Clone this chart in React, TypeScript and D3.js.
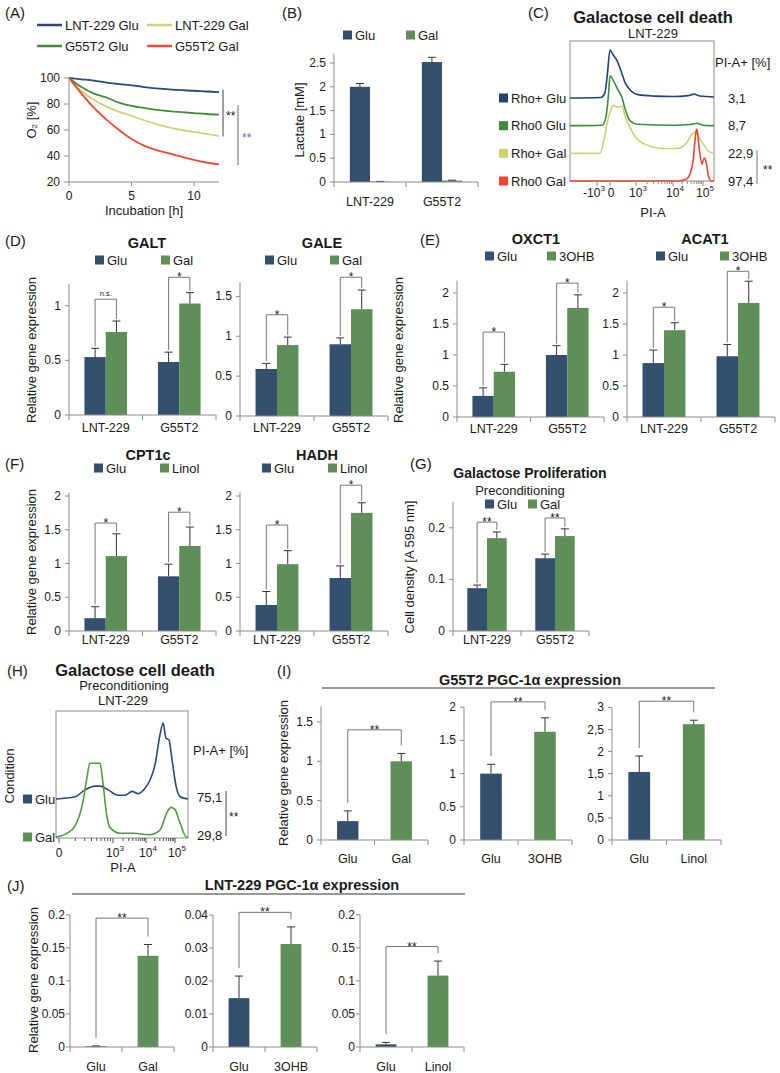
import React from "react";
import * as d3 from "d3";

const FONT = "'Liberation Sans', Arial, Helvetica, sans-serif";
const BAR_BLUE = "#35506f";
const BAR_GREEN = "#5f8f58";
const LINE_BLUE = "#2b477a";
const LINE_GREEN = "#478a3d";
const LINE_YELLOW = "#cfd27a";
const LINE_RED = "#ee4a36";
const AXIS = "#8c8c8c";
const BRACKET = "#777";
const INK = "#1a1a1a";

// (A) oxygen consumption
const hours = [0, 1, 2, 3, 4, 5, 6, 7, 8, 9, 10, 11, 12];
const o2LntGlu = [100, 99, 98, 96.5, 95.3, 94.4, 93, 92, 91.2, 90.6, 90.2, 89.6, 89.2];
const o2LntGal = [100, 90, 83, 78, 74, 71, 67.5, 64.5, 62, 60, 58.5, 57, 55.5];
const o2G55Glu = [100, 93, 88, 85, 81, 78.5, 77, 75.5, 74.5, 73.7, 73, 72.3, 71.8];
const o2G55Gal = [100, 88, 77, 68, 60, 53, 48, 44.5, 42, 39.5, 37, 35, 33.5];
const o2Names = ["LNT-229 Glu", "LNT-229 Gal", "G55T2 Glu", "G55T2 Gal"];
const o2Ticks = [20, 40, 60, 80, 100];
const hourTicks = [0, 5, 10];
const o2Sig = [[91, 55], [79, 33]];

// (B) lactate
const cells = ["LNT-229", "G55T2"];
const lactateGlu = [2.0, 2.52];
const lactateGluErr = [0.07, 0.1];
const lactateGal = [0.008, 0.03];
const lactateGalErr = [0.004, 0.008];
const lactateTicks = [0, 0.5, 1, 1.5, 2, 2.5];

// (C) flow cytometry, LNT-229
const flowRowsC = ["Rho+ Glu", "Rho0 Glu", "Rho+ Gal", "Rho0 Gal"];
const piPositiveC = ["3,1", "8,7", "22,9", "97,4"];
const flowRhoPlusGlu = [[-1.9, 0], [-0.7, 0.01], [-0.4, 0.1], [-0.2, 0.5], [0, 1], [0.12, 0.9], [0.27, 0.78], [0.4, 0.6], [0.58, 0.32], [0.8, 0.15], [1.05, 0.07], [1.5, 0.04], [2, 0.03], [2.5, 0.05], [2.7, 0.08], [2.9, 0.04], [3.4, 0.02]];
const flowRho0Glu = [[-1.9, 0], [-0.6, 0.01], [-0.3, 0.2], [-0.1, 0.7], [0, 1.04], [0.12, 0.95], [0.3, 0.75], [0.45, 0.6], [0.58, 0.35], [0.77, 0.1], [1.05, 0.03], [2, 0.01], [2.65, 0.03], [2.8, 0.05], [3, 0.01], [3.4, 0]];
const flowRhoPlusGal = [[-1.9, 0], [-0.77, 0], [-0.45, 0.3], [-0.2, 0.65], [0, 0.85], [0.12, 1.0], [0.3, 0.96], [0.46, 0.98], [0.58, 0.77], [0.77, 0.54], [0.96, 0.35], [1.1, 0.25], [1.38, 0.15], [1.73, 0.1], [2.13, 0.1], [2.47, 0.23], [2.63, 0.4], [2.73, 0.44], [2.9, 0.3], [3.06, 0.15], [3.23, 0.03], [3.4, 0]];
const flowRho0Gal = [[-1.9, 0], [2.2, 0], [2.45, 0.04], [2.57, 0.15], [2.67, 0.42], [2.77, 1.04], [2.8, 1.08], [2.87, 0.69], [2.97, 0.35], [3.0, 0.42], [3.06, 0.48], [3.13, 0.35], [3.2, 0.1], [3.3, 0], [3.4, 0]];

// (D) galactose genes
const galtGlu = [0.53, 0.485];
const galtGluErr = [0.08, 0.09];
const galtGal = [0.76, 1.02];
const galtGalErr = [0.1, 0.1];
const galtSig = [1.06, 1.26];
const galtSigLabel = ["n.s.", "*"];
const galeGlu = [0.59, 0.9];
const galeGluErr = [0.07, 0.08];
const galeGal = [0.89, 1.34];
const galeGalErr = [0.1, 0.24];
const galeSig = [1.27, 1.74];

// (E) ketone genes
const oxctGlu = [0.34, 1.0];
const oxctGluErr = [0.13, 0.15];
const oxct3ohb = [0.73, 1.76];
const oxct3ohbErr = [0.12, 0.21];
const oxctSig = [1.37, 2.16];
const acatGlu = [0.87, 0.98];
const acatGluErr = [0.21, 0.19];
const acat3ohb = [1.4, 1.84];
const acat3ohbErr = [0.12, 0.35];
const acatSig = [1.77, 2.35];

// (F) fatty acid genes
const cptGlu = [0.19, 0.81];
const cptGluErr = [0.17, 0.18];
const cptLinol = [1.11, 1.26];
const cptLinolErr = [0.33, 0.28];
const cptSig = [1.6, 1.76];
const hadhGlu = [0.385, 0.785];
const hadhGluErr = [0.2, 0.18];
const hadhLinol = [0.99, 1.75];
const hadhLinolErr = [0.2, 0.15];
const hadhSig = [1.57, 2.16];

// (G) proliferation
const prolGlu = [0.083, 0.141];
const prolGluErr = [0.006, 0.008];
const prolGal = [0.18, 0.184];
const prolGalErr = [0.012, 0.014];
const prolSig = [0.211, 0.219];

// (H) flow cytometry, preconditioning
const flowRowsH = ["Glu", "Gal"];
const piPositiveH = ["75,1", "29,8"];
const flowHGlu = [[-0.1, 0], [0.3, 0.03], [0.48, 0.12], [0.67, 0.17], [0.76, 0.17], [0.91, 0.12], [1.15, 0.05], [1.36, 0.05], [1.58, 0.1], [1.76, 0.07], [1.97, 0.14], [2.14, 0.25], [2.31, 0.45], [2.48, 0.84], [2.59, 1.0], [2.69, 0.8], [2.79, 0.78], [2.9, 0.51], [3.03, 0.18], [3.17, 0.03], [3.43, 0]];
const flowHGal = [[-0.1, 0], [0.15, 0.05], [0.3, 0.15], [0.44, 0.45], [0.52, 0.79], [0.57, 0.97], [0.76, 0.97], [0.8, 0.79], [0.89, 0.26], [0.94, 0.13], [1.21, 0.05], [1.61, 0.05], [2.12, 0.03], [2.48, 0.09], [2.72, 0.32], [2.86, 0.39], [3.0, 0.36], [3.17, 0.18], [3.38, 0], [3.43, 0]];

// (I) G55T2 PGC-1a
const pgcGalGroups = ["Glu", "Gal"];
const pgc3ohbGroups = ["Glu", "3OHB"];
const pgcLinolGroups = ["Glu", "Linol"];
const g55PgcGal = [0.24, 1.0];
const g55PgcGalErr = [0.13, 0.1];
const g55Pgc3ohb = [1.0, 1.63];
const g55Pgc3ohbErr = [0.14, 0.21];
const g55PgcLinol = [1.54, 2.62];
const g55PgcLinolErr = [0.36, 0.09];
const g55PgcSig = [1.4, 2.08, 3.14];

// (J) LNT-229 PGC-1a
const lntPgcGal = [0.001, 0.138];
const lntPgcGalErr = [0.0006, 0.017];
const lntPgc3ohb = [0.0148, 0.0312];
const lntPgc3ohbErr = [0.0067, 0.0052];
const lntPgcLinol = [0.004, 0.108];
const lntPgcLinolErr = [0.003, 0.022];
const lntPgcSig = [0.195, 0.0408, 0.152];

const ticks05 = (max: number) => d3.range(0, max + 1e-9, 0.5).map((v) => +v.toFixed(2));

type Sig = { a: [number, number]; b: [number, number]; y: number; label: string };

function BarChart(props: {
  x0: number; x1: number; yBase: number; yTop: number; axisMax: number;
  ticks: number[]; fmt?: (v: number) => string; tickGap?: number;
  groups: string[]; series: string[]; values: number[][]; errors: number[][];
  colors: string[]; colorByGroup?: boolean; barFrac: number;
  sigs: Sig[]; gap: number; labelDy: number;
}) {
  const { x0, x1, yBase, yTop, axisMax, ticks, groups, series, values, errors, colors, barFrac, sigs, gap, labelDy } = props;
  const fmt = props.fmt ?? ((v: number) => String(v));
  const tickGap = props.tickGap ?? 8;
  const x = d3.scaleBand<string>().domain(groups).range([x0, x1]);
  const bw = x.bandwidth();
  const inner = d3.scaleBand<string>().domain(series).range([(bw * (1 - barFrac)) / 2, (bw * (1 + barFrac)) / 2]);
  const y = d3.scaleLinear().domain([0, axisMax]).range([yBase, yTop]);
  const cx = (g: number, s: number) => (x(groups[g]) as number) + (inner(series[s]) as number) + inner.bandwidth() / 2;
  const errTop = (g: number, s: number) => y(values[s][g] + errors[s][g]);
  const bounds = [x0, ...groups.slice(1).map((g) => x(g) as number), x1];
  return (
    <g>
      {series.map((s, si) =>
        groups.map((g, gi) => {
          const v = values[si][gi];
          const bx = (x(g) as number) + (inner(s) as number);
          const mid = bx + inner.bandwidth() / 2;
          const et = errTop(gi, si);
          return (
            <g key={s + g}>
              <rect x={bx} y={y(v)} width={inner.bandwidth()} height={yBase - y(v)} fill={props.colorByGroup ? colors[gi] : colors[si]} />
              <line x1={mid} x2={mid} y1={y(v)} y2={et} stroke="#333" />
              <line x1={mid - 4} x2={mid + 4} y1={et} y2={et} stroke="#333" />
            </g>
          );
        })
      )}
      <line x1={x0} x2={x0} y1={yBase} y2={yTop} stroke={AXIS} />
      {ticks.map((t) => (
        <g key={t}>
          <line x1={x0 - 4} x2={x0} y1={y(t)} y2={y(t)} stroke={AXIS} />
          <text x={x0 - tickGap} y={y(t)} textAnchor="end" dominantBaseline="central" fontSize={12} fill={INK}>{fmt(t)}</text>
        </g>
      ))}
      <line x1={x0} x2={x1} y1={yBase} y2={yBase} stroke={AXIS} />
      {bounds.map((b, i) => (
        <line key={i} x1={b} x2={b} y1={yBase} y2={yBase + 5} stroke={AXIS} />
      ))}
      {groups.map((g) => (
        <text key={g} x={(x(g) as number) + bw / 2} y={yBase + labelDy} textAnchor="middle" dominantBaseline="central" fontSize={12.5} fill={INK}>{g}</text>
      ))}
      {sigs.map((sg, i) => {
        const xa = cx(sg.a[0], sg.a[1]);
        const xb = cx(sg.b[0], sg.b[1]);
        const yb = y(sg.y);
        const ya = Math.max(yb, errTop(sg.a[0], sg.a[1]) - gap);
        const yr = Math.max(yb + 5, errTop(sg.b[0], sg.b[1]) - gap);
        const ns = sg.label === "n.s.";
        return (
          <g key={i}>
            <path d={`M${xa},${ya}V${yb}H${xb}V${yr}`} fill="none" stroke={BRACKET} />
            <text x={(xa + xb) / 2} y={ns ? yb - 3 : yb + 4} textAnchor="middle" fontSize={ns ? 7.5 : 12} fill={INK}>{sg.label}</text>
          </g>
        );
      })}
    </g>
  );
}

function Legend({ y, items }: { y: number; items: { label: string; color: string; x: number }[] }) {
  return (
    <g>
      {items.map((it) => (
        <g key={it.label}>
          <rect x={it.x} y={y - 4.5} width={9} height={9} fill={it.color} />
          <text x={it.x + 12} y={y} dominantBaseline="central" fontSize={13} fill={INK}>{it.label}</text>
        </g>
      ))}
    </g>
  );
}

function YLabel({ x, y, children }: { x: number; y: number; children: React.ReactNode }) {
  return (
    <text x={x} y={y} transform={`rotate(-90,${x},${y})`} textAnchor="middle" dominantBaseline="central" fontSize={13} fill={INK}>{children}</text>
  );
}

function Title({ x, y, size = 14.5, children }: { x: number; y: number; size?: number; children: React.ReactNode }) {
  return (
    <text x={x} y={y} textAnchor="middle" dominantBaseline="central" fontSize={size} fontWeight="bold" fill={INK}>{children}</text>
  );
}

function PanelLabel({ x, y, children }: { x: number; y: number; children: React.ReactNode }) {
  return <text x={x} y={y} dominantBaseline="central" fontSize={15} fill={INK}>{children}</text>;
}

function Pow({ x, y, exp, neg = false }: { x: number; y: number; exp: string; neg?: boolean }) {
  return (
    <text x={x} y={y} textAnchor="middle" dominantBaseline="central" fontSize={12} fill={INK}>
      {neg ? "-10" : "10"}
      <tspan fontSize={8} dy={-5}>{exp}</tspan>
    </text>
  );
}

function PanelA() {
  const x = d3.scaleLinear().domain([0, 12]).range([69, 219]);
  const y = d3.scaleLinear().domain([20, 100]).range([182, 78]);
  const series = [o2LntGlu, o2LntGal, o2G55Glu, o2G55Gal];
  const colors = [LINE_BLUE, LINE_YELLOW, LINE_GREEN, LINE_RED];
  const legendPos = [[37, 25], [147, 25], [37, 46], [147, 46]];
  const line = d3.line<number>().x((_, i) => x(hours[i])).y((d) => y(d)).curve(d3.curveMonotoneX);
  return (
    <g>
      <PanelLabel x={5} y={12}>(A)</PanelLabel>
      {o2Names.map((n, i) => (
        <g key={n}>
          <line x1={legendPos[i][0]} x2={legendPos[i][0] + 25} y1={legendPos[i][1]} y2={legendPos[i][1]} stroke={colors[i]} strokeWidth={2.5} />
          <text x={legendPos[i][0] + 28} y={legendPos[i][1]} dominantBaseline="central" fontSize={13} fill={INK}>{n}</text>
        </g>
      ))}
      {series.map((s, i) => (
        <path key={i} d={line(s) as string} fill="none" stroke={colors[i]} strokeWidth={1.8} />
      ))}
      <line x1={69} x2={69} y1={182} y2={78} stroke={AXIS} />
      {o2Ticks.map((t) => (
        <g key={t}>
          <line x1={64} x2={69} y1={y(t)} y2={y(t)} stroke={AXIS} />
          <text x={60} y={y(t)} textAnchor="end" dominantBaseline="central" fontSize={12} fill={INK}>{t}</text>
        </g>
      ))}
      <line x1={69} x2={x(12)} y1={182} y2={182} stroke={AXIS} />
      {hourTicks.map((t) => (
        <g key={t}>
          <line x1={x(t)} x2={x(t)} y1={182} y2={186} stroke={AXIS} />
          <text x={x(t)} y={196} textAnchor="middle" dominantBaseline="central" fontSize={12} fill={INK}>{t}</text>
        </g>
      ))}
      <text x={144} y={210} textAnchor="middle" dominantBaseline="central" fontSize={13} fill={INK}>Incubation [h]</text>
      <text x={31} y={120} transform="rotate(-90,31,120)" textAnchor="middle" dominantBaseline="central" fontSize={13} fill={INK}>
        O<tspan fontSize={8} dy={3}>2</tspan><tspan dy={-3}> [%]</tspan>
      </text>
      <line x1={223} x2={223} y1={y(o2Sig[0][0])} y2={y(o2Sig[0][1])} stroke="#444" />
      <text x={226} y={y((o2Sig[0][0] + o2Sig[0][1]) / 2) + 7} fontSize={12} fill={INK}>**</text>
      <line x1={238} x2={238} y1={y(o2Sig[1][0])} y2={y(o2Sig[1][1])} stroke="#666" />
      <text x={242} y={y((o2Sig[1][0] + o2Sig[1][1]) / 2) + 7} fontSize={12} fill="#6f68a3">**</text>
    </g>
  );
}

function PanelB() {
  return (
    <g>
      <PanelLabel x={282} y={12}>(B)</PanelLabel>
      <Legend y={35} items={[{ label: "Glu", color: BAR_BLUE, x: 343 }, { label: "Gal", color: BAR_GREEN, x: 406 }]} />
      <BarChart x0={334} x1={478} yBase={182} yTop={182 - 2.7 * 47.6} axisMax={2.7} ticks={lactateTicks}
        groups={cells} series={["Glu", "Gal"]} values={[lactateGlu, lactateGal]} errors={[lactateGluErr, lactateGalErr]}
        colors={[BAR_BLUE, BAR_GREEN]} barFrac={0.56} sigs={[]} gap={3} labelDy={20} />
      <YLabel x={299} y={120}>Lactate [mM]</YLabel>
    </g>
  );
}

function Flow({ x, rows, curves, colors, base0, base1, unit }: {
  x: d3.ScaleLinear<number, number>; rows: string[]; curves: number[][][]; colors: string[]; base0: number; base1: number; unit: number;
}) {
  const row = d3.scalePoint<string>().domain(rows).range([base0, base1]);
  return (
    <g>
      {curves.map((c, i) => {
        const b = row(rows[i]) as number;
        const line = d3.line<number[]>().x((d) => x(d[0])).y((d) => b - d[1] * unit).curve(d3.curveMonotoneX);
        return <path key={i} d={line(c) as string} fill="none" stroke={colors[i]} strokeWidth={1.6} />;
      })}
    </g>
  );
}

function PanelC() {
  const x = d3.scaleLinear().domain([-1.9, -1, 0, 1, 2, 3, 3.4]).range([570, 597, 610, 636, 673, 703, 714]);
  const row = d3.scalePoint<string>().domain(flowRowsC).range([98, 181]);
  const colors = ["#22407a", "#3d8b3d", "#cfd175", "#ee4431"];
  const minor = [-1, 0, 1, 2, 3].concat([1, 2].flatMap((d) => [2, 3, 4, 5, 6, 7, 8, 9].map((k) => d + Math.log10(k))));
  return (
    <g>
      <PanelLabel x={528} y={12}>(C)</PanelLabel>
      <Title x={653} y={17} size={16.5}>Galactose cell death</Title>
      <text x={653} y={33} textAnchor="middle" dominantBaseline="central" fontSize={13} fill={INK}>LNT-229</text>
      <rect x={570} y={41} width={144} height={140} fill="none" stroke={AXIS} />
      <Flow x={x} rows={flowRowsC} curves={[flowRhoPlusGlu, flowRho0Glu, flowRhoPlusGal, flowRho0Gal]} colors={colors} base0={98} base1={181} unit={48} />
      {minor.map((p, i) => (
        <line key={i} x1={x(p)} x2={x(p)} y1={181} y2={Number.isInteger(p) ? 186 : 184} stroke={AXIS} />
      ))}
      <Pow x={594} y={193} exp="3" neg />
      <text x={611} y={193} textAnchor="middle" dominantBaseline="central" fontSize={12} fill={INK}>0</text>
      <Pow x={638} y={193} exp="3" />
      <Pow x={675} y={193} exp="4" />
      <Pow x={705} y={193} exp="5" />
      <text x={653} y={212} textAnchor="middle" dominantBaseline="central" fontSize={13} fill={INK}>PI-A</text>
      {flowRowsC.map((r, i) => (
        <g key={r}>
          <rect x={499} y={(row(r) as number) - 4.5} width={9} height={9} fill={colors[i]} />
          <text x={511} y={row(r) as number} dominantBaseline="central" fontSize={13} fill={INK}>{r}</text>
          <text x={728} y={row(r) as number} dominantBaseline="central" fontSize={13} fill={INK}>{piPositiveC[i]}</text>
        </g>
      ))}
      <text x={715} y={62} dominantBaseline="central" fontSize={13} fill={INK}>PI-A+ [%]</text>
      <line x1={757} x2={757} y1={150} y2={184} stroke={BRACKET} />
      <text x={763} y={174} fontSize={12} fill={INK}>**</text>
    </g>
  );
}

function pairSigs(levels: number[], labels: string[]): Sig[] {
  return levels.map((lv, g) => ({ a: [g, 0], b: [g, 1], y: lv, label: labels[g] }));
}

function PanelD() {
  return (
    <g>
      <PanelLabel x={5} y={240}>(D)</PanelLabel>
      <Title x={147} y={243}>GALT</Title>
      <Legend y={260} items={[{ label: "Glu", color: BAR_BLUE, x: 95 }, { label: "Gal", color: BAR_GREEN, x: 161 }]} />
      <BarChart x0={69} x1={216} yBase={415} yTop={415 - 1.2 * 109.3} axisMax={1.2} ticks={[0, 0.5, 1]}
        groups={cells} series={["Glu", "Gal"]} values={[galtGlu, galtGal]} errors={[galtGluErr, galtGalErr]}
        colors={[BAR_BLUE, BAR_GREEN]} barFrac={0.58} sigs={pairSigs(galtSig, galtSigLabel)} gap={2} labelDy={13} />
      <Title x={322} y={243}>GALE</Title>
      <Legend y={260} items={[{ label: "Glu", color: BAR_BLUE, x: 265 }, { label: "Gal", color: BAR_GREEN, x: 330 }]} />
      <BarChart x0={240} x1={388} yBase={416} yTop={416 - 1.68 * 79.7} axisMax={1.68} ticks={[0, 0.5, 1, 1.5]}
        groups={cells} series={["Glu", "Gal"]} values={[galeGlu, galeGal]} errors={[galeGluErr, galeGalErr]}
        colors={[BAR_BLUE, BAR_GREEN]} barFrac={0.58} sigs={pairSigs(galeSig, ["*", "*"])} gap={2} labelDy={12} />
      <YLabel x={31} y={350}>Relative gene expression</YLabel>
    </g>
  );
}

function PanelE() {
  return (
    <g>
      <PanelLabel x={420} y={239}>(E)</PanelLabel>
      <Title x={536} y={239}>OXCT1</Title>
      <Legend y={256} items={[{ label: "Glu", color: BAR_BLUE, x: 485 }, { label: "3OHB", color: BAR_GREEN, x: 547 }]} />
      <BarChart x0={457} x1={604} yBase={417} yTop={417 - 2.2 * 62} axisMax={2.2} ticks={ticks05(2)}
        groups={cells} series={["Glu", "3OHB"]} values={[oxctGlu, oxct3ohb]} errors={[oxctGluErr, oxct3ohbErr]}
        colors={[BAR_BLUE, BAR_GREEN]} barFrac={0.58} sigs={pairSigs(oxctSig, ["*", "*"])} gap={2} labelDy={12} />
      <Title x={705} y={239}>ACAT1</Title>
      <Legend y={256} items={[{ label: "Glu", color: BAR_BLUE, x: 656 }, { label: "3OHB", color: BAR_GREEN, x: 720 }]} />
      <BarChart x0={627} x1={775} yBase={417} yTop={417 - 2.2 * 62} axisMax={2.2} ticks={ticks05(2)}
        groups={cells} series={["Glu", "3OHB"]} values={[acatGlu, acat3ohb]} errors={[acatGluErr, acat3ohbErr]}
        colors={[BAR_BLUE, BAR_GREEN]} barFrac={0.58} sigs={pairSigs(acatSig, ["*", "*"])} gap={2} labelDy={12} />
      <YLabel x={398} y={350}>Relative gene expression</YLabel>
    </g>
  );
}

function PanelF() {
  return (
    <g>
      <PanelLabel x={5} y={463}>(F)</PanelLabel>
      <Title x={148} y={455}>CPT1c</Title>
      <Legend y={468} items={[{ label: "Glu", color: BAR_BLUE, x: 94 }, { label: "Linol", color: BAR_GREEN, x: 160 }]} />
      <BarChart x0={69} x1={216} yBase={631} yTop={631 - 2.05 * 67.5} axisMax={2.05} ticks={ticks05(2)}
        groups={cells} series={["Glu", "Linol"]} values={[cptGlu, cptLinol]} errors={[cptGluErr, cptLinolErr]}
        colors={[BAR_BLUE, BAR_GREEN]} barFrac={0.58} sigs={pairSigs(cptSig, ["*", "*"])} gap={2} labelDy={9} />
      <Title x={317} y={455}>HADH</Title>
      <Legend y={468} items={[{ label: "Glu", color: BAR_BLUE, x: 262 }, { label: "Linol", color: BAR_GREEN, x: 328 }]} />
      <BarChart x0={240} x1={388} yBase={631} yTop={631 - 2.05 * 67.5} axisMax={2.05} ticks={ticks05(2)}
        groups={cells} series={["Glu", "Linol"]} values={[hadhGlu, hadhLinol]} errors={[hadhGluErr, hadhLinolErr]}
        colors={[BAR_BLUE, BAR_GREEN]} barFrac={0.58} sigs={pairSigs(hadhSig, ["*", "*"])} gap={2} labelDy={9} />
      <YLabel x={31} y={562}>Relative gene expression</YLabel>
    </g>
  );
}

function PanelG() {
  return (
    <g>
      <PanelLabel x={410} y={463}>(G)</PanelLabel>
      <Title x={530} y={473} size={14}>Galactose Proliferation</Title>
      <text x={520} y={490} textAnchor="middle" dominantBaseline="central" fontSize={13} fill={INK}>Preconditioning</text>
      <Legend y={504} items={[{ label: "Glu", color: BAR_BLUE, x: 485 }, { label: "Gal", color: BAR_GREEN, x: 528 }]} />
      <BarChart x0={453} x1={589} yBase={631} yTop={631 - 0.25 * 516} axisMax={0.25} ticks={[0, 0.1, 0.2]}
        groups={cells} series={["Glu", "Gal"]} values={[prolGlu, prolGal]} errors={[prolGluErr, prolGalErr]}
        colors={[BAR_BLUE, BAR_GREEN]} barFrac={0.58} sigs={pairSigs(prolSig, ["**", "**"])} gap={2} labelDy={9} />
      <YLabel x={409} y={567}>Cell density [A 595 nm]</YLabel>
    </g>
  );
}

function PanelH() {
  const x = d3.scaleLinear().domain([-0.1, 0, 1, 2, 3, 3.43]).range([56, 59, 113, 146, 175, 188]);
  const row = d3.scalePoint<string>().domain(flowRowsH).range([799, 837]);
  const minor = [0, 1, 2, 3].concat([0, 1, 2].flatMap((d) => [2, 3, 4, 5, 6, 7, 8, 9].map((k) => d + Math.log10(k))));
  return (
    <g>
      <PanelLabel x={7} y={670}>(H)</PanelLabel>
      <Title x={135} y={670} size={16.5}>Galactose cell death</Title>
      <text x={124} y={685} textAnchor="middle" dominantBaseline="central" fontSize={13} fill={INK}>Preconditioning</text>
      <text x={123} y={700} textAnchor="middle" dominantBaseline="central" fontSize={13} fill={INK}>LNT-229</text>
      <rect x={56} y={711} width={132} height={127} fill="none" stroke={AXIS} />
      <Flow x={x} rows={flowRowsH} curves={[flowHGlu, flowHGal]} colors={[LINE_BLUE, "#4f9a45"]} base0={799} base1={837} unit={76} />
      {minor.map((p, i) => (
        <line key={i} x1={x(p)} x2={x(p)} y1={838} y2={Number.isInteger(p) ? 843 : 841} stroke="#555" />
      ))}
      <text x={59} y={853} textAnchor="middle" dominantBaseline="central" fontSize={12} fill={INK}>0</text>
      <Pow x={115} y={853} exp="3" />
      <Pow x={148} y={853} exp="4" />
      <Pow x={177} y={853} exp="5" />
      <text x={123} y={867} textAnchor="middle" dominantBaseline="central" fontSize={13} fill={INK}>PI-A</text>
      {flowRowsH.map((r, i) => (
        <g key={r}>
          <rect x={23} y={(row(r) as number) - 4.5} width={9} height={9} fill={[BAR_BLUE, BAR_GREEN][i]} />
          <text x={35} y={row(r) as number} dominantBaseline="central" fontSize={13} fill={INK}>{r}</text>
          <text x={197} y={(row(r) as number) - 2} dominantBaseline="central" fontSize={13} fill={INK}>{piPositiveH[i]}</text>
        </g>
      ))}
      <YLabel x={9} y={776}>Condition</YLabel>
      <text x={193} y={750} dominantBaseline="central" fontSize={13} fill={INK}>PI-A+ [%]</text>
      <line x1={226} x2={226} y1={791} y2={836} stroke="#444" />
      <text x={229} y={821} fontSize={12} fill={INK}>**</text>
    </g>
  );
}

const singleSig = (lv: number): Sig[] => [{ a: [0, 0], b: [1, 0], y: lv, label: "**" }];

function PanelI() {
  const common = { series: ["v"], colors: [BAR_BLUE, BAR_GREEN], colorByGroup: true, barFrac: 0.4, gap: 8, labelDy: 19, yBase: 840 };
  return (
    <g>
      <PanelLabel x={277} y={670}>(I)</PanelLabel>
      <Title x={530} y={680}>G55T2 PGC-1α expression</Title>
      <line x1={322} x2={715} y1={688} y2={688} stroke="#333" />
      <BarChart {...common} x0={321} x1={428} yTop={840 - 1.7 * 78.7} axisMax={1.7} ticks={[0, 0.5, 1, 1.5]}
        groups={pgcGalGroups} values={[g55PgcGal]} errors={[g55PgcGalErr]} sigs={singleSig(g55PgcSig[0])} />
      <BarChart {...common} x0={464} x1={572} yTop={840 - 2 * 66.4} axisMax={2} ticks={ticks05(2)}
        groups={pgc3ohbGroups} values={[g55Pgc3ohb]} errors={[g55Pgc3ohbErr]} sigs={singleSig(g55PgcSig[1])} />
      <BarChart {...common} x0={612} x1={721} yTop={840 - 3 * 44.2} axisMax={3} ticks={ticks05(3)}
        fmt={(v) => String(v).replace(".", ",")}
        groups={pgcLinolGroups} values={[g55PgcLinol]} errors={[g55PgcLinolErr]} sigs={singleSig(g55PgcSig[2])} />
      <YLabel x={283} y={773}>Relative gene expression</YLabel>
    </g>
  );
}

function PanelJ() {
  const common = { series: ["v"], colors: [BAR_BLUE, BAR_GREEN], colorByGroup: true, barFrac: 0.4, gap: 8, labelDy: 20, yBase: 1047, tickGap: 5 };
  const t02 = [0, 0.05, 0.1, 0.15, 0.2];
  return (
    <g>
      <PanelLabel x={7} y={885}>(J)</PanelLabel>
      <Title x={302} y={885}>LNT-229 PGC-1α expression</Title>
      <line x1={72} x2={465} y1={894} y2={894} stroke="#333" />
      <BarChart {...common} x0={70} x1={174} yTop={1047 - 0.2 * 661} axisMax={0.2} ticks={t02}
        groups={pgcGalGroups} values={[lntPgcGal]} errors={[lntPgcGalErr]} sigs={singleSig(lntPgcSig[0])} />
      <BarChart {...common} x0={213} x1={317} yTop={1047 - 0.04 * 3300} axisMax={0.04} ticks={[0, 0.01, 0.02, 0.03, 0.04]}
        groups={pgc3ohbGroups} values={[lntPgc3ohb]} errors={[lntPgc3ohbErr]} sigs={singleSig(lntPgcSig[1])} />
      <BarChart {...common} x0={360} x1={464} yTop={1047 - 0.2 * 661} axisMax={0.2} ticks={t02}
        groups={pgcLinolGroups} values={[lntPgcLinol]} errors={[lntPgcLinolErr]} sigs={singleSig(lntPgcSig[2])} />
      <YLabel x={33} y={980}>Relative gene expression</YLabel>
    </g>
  );
}

export default function App() {
  return (
    <svg width={780} height={1073} viewBox="0 0 780 1073" fontFamily={FONT}
      style={{ position: "absolute", left: 0, top: 0, background: "#fff" }}>
      <rect width={780} height={1073} fill="#fff" />
      <PanelA />
      <PanelB />
      <PanelC />
      <PanelD />
      <PanelE />
      <PanelF />
      <PanelG />
      <PanelH />
      <PanelI />
      <PanelJ />
    </svg>
  );
}
